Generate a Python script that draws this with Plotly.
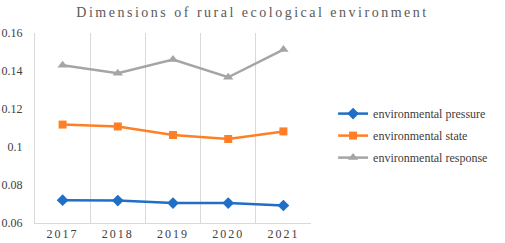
import plotly.graph_objects as go

years = ["2017", "2018", "2019", "2020", "2021"]
pressure = [0.0720, 0.0718, 0.0705, 0.0705, 0.0692]
state = [0.1118, 0.1108, 0.1063, 0.1042, 0.1082]
response = [0.1430, 0.1388, 0.1460, 0.1367, 0.1513]
ytickvals = [0.06, 0.08, 0.10, 0.12, 0.14, 0.16]
yticktext = ["0.06", "0.08", "0.1", "0.12", "0.14", "0.16"]

xpos = list(range(len(years)))
font = "Liberation Serif"

fig = go.Figure()
fig.add_trace(go.Scatter(x=xpos, y=pressure, name="environmental pressure", mode="lines+markers",
                         legendgroup="a",
                         line=dict(color="#1F6FC6", width=2.5),
                         marker=dict(symbol="diamond", size=9, color="#1F6FC6")))
fig.add_trace(go.Scatter(x=xpos, y=state, name="environmental state", mode="lines+markers",
                         legendgroup="b",
                         line=dict(color="#FF7F27", width=2.5),
                         marker=dict(symbol="square", size=8, color="#FF7F27")))
fig.add_trace(go.Scatter(x=xpos, y=response, name="environmental response", mode="lines+markers",
                         legendgroup="c",
                         line=dict(color="#A5A5A5", width=2.5),
                         marker=dict(symbol="triangle-up", size=9, color="#A5A5A5")))

fig.update_layout(
    width=505, height=243,
    margin=dict(l=35, r=182, t=33, b=20),
    paper_bgcolor="white", plot_bgcolor="white",
    font=dict(family=font, size=12, color="#404040"),
    title=dict(text="Dimensions of rural ecological environment", xref="container", x=0.5,
               xanchor="center", y=0.95, yanchor="middle",
               font=dict(family=font, size=14, color="#595959")),
    showlegend=True,
    legend=dict(x=1.08, y=0.46, xanchor="left", yanchor="middle",
                font=dict(family=font, size=12, color="#404040"),
                itemwidth=30, tracegroupgap=3, bgcolor="rgba(0,0,0,0)"),
    xaxis=dict(range=[-0.5, 4.5], tickvals=xpos, ticktext=years, showgrid=False,
               showline=True, linecolor="#D9D9D9", linewidth=1, zeroline=False, automargin=False,
               ticks="", tickfont=dict(family=font, size=12, color="#404040"),
               minor=dict(tick0=0.5, dtick=1, showgrid=True, gridcolor="#D9D9D9", gridwidth=1, ticks="")),
    yaxis=dict(range=[0.06, 0.16], tickvals=ytickvals, ticktext=yticktext, showgrid=False,
               showline=True, linecolor="#D9D9D9", linewidth=1, zeroline=False, automargin=False,
               ticks="", ticklabelstandoff=9,
               tickfont=dict(family=font, size=12, color="#404040")),
)

post = """
document.body.style.margin='0';
function sp(){
  var t=document.querySelectorAll('.gtitle');
  t.forEach(function(e){e.style.letterSpacing='2.5px';});
  var x=document.querySelectorAll('.xtick text');
  x.forEach(function(e){e.style.letterSpacing='2px';});
}
sp(); setTimeout(sp,50);
"""
fig.write_html("out.html", post_script=post, config={"displayModeBar": False})
